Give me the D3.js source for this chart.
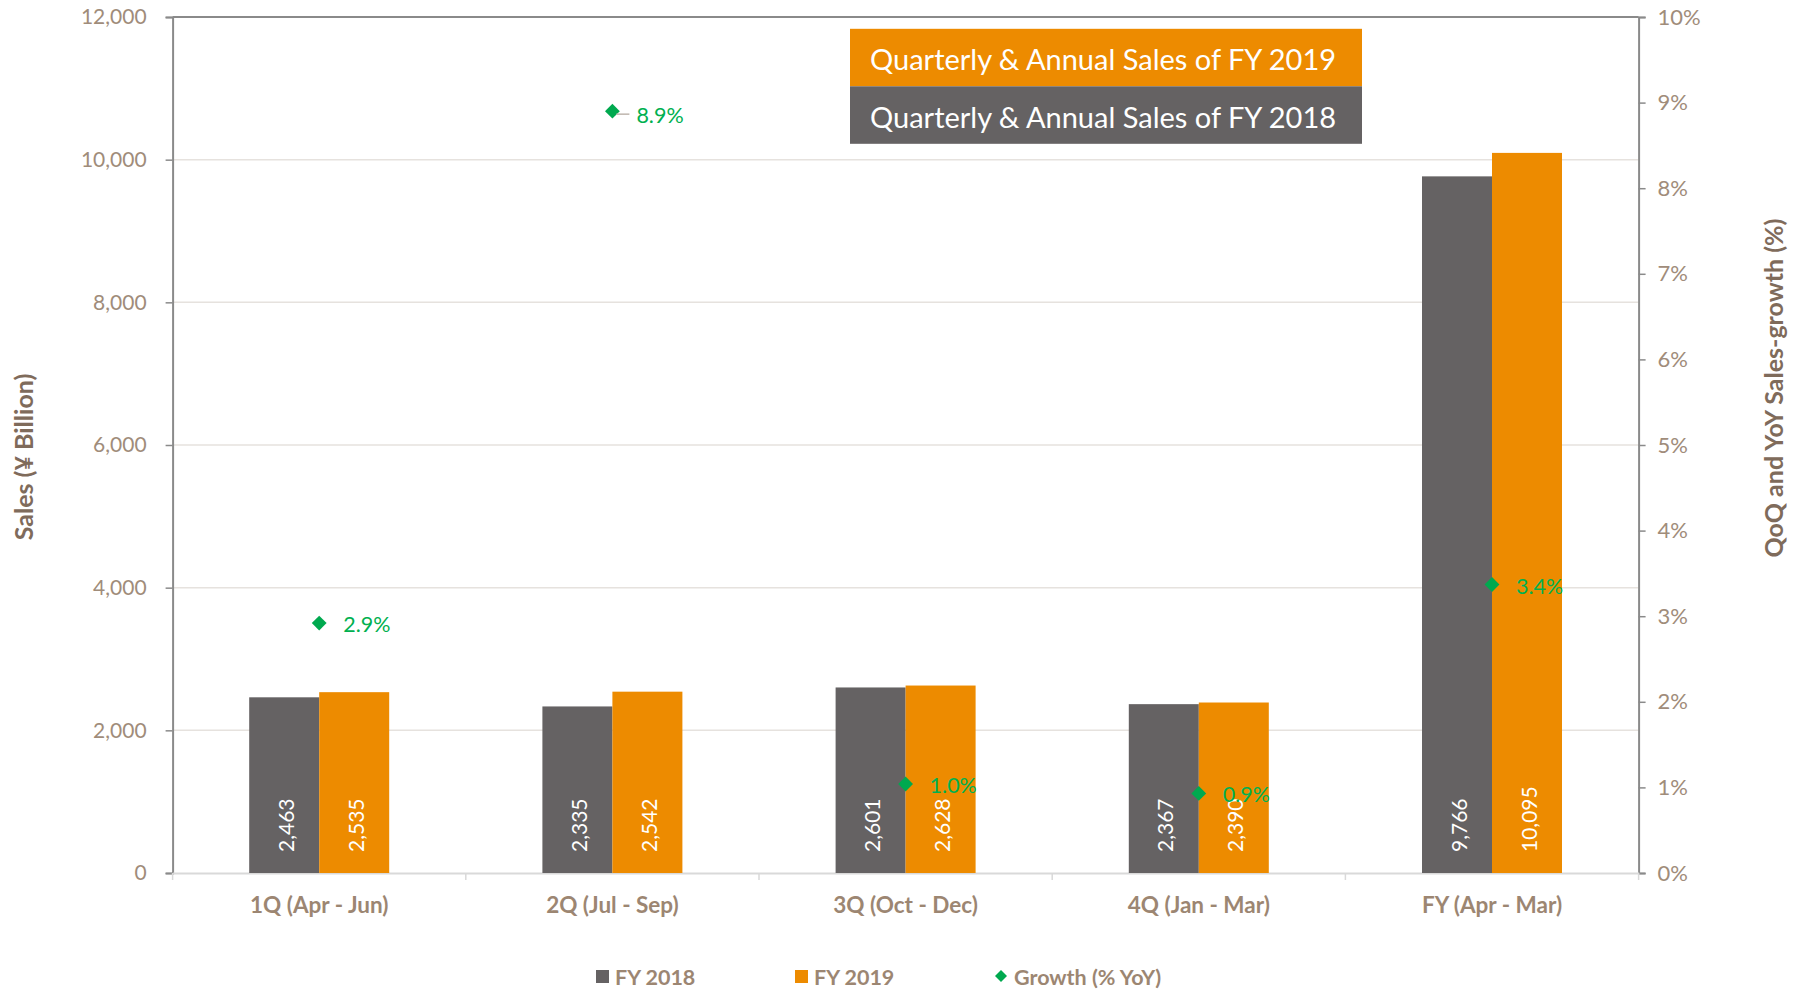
<!DOCTYPE html>
<html>
<head>
<meta charset="utf-8">
<script src="https://cdn.jsdelivr.net/npm/d3@7"></script>
<style>
  html, body { margin: 0; padding: 0; background: #fff; }
  svg { display: block; font-family: Lato, "Open Sans", sans-serif; }
</style>
</head>
<body>
<svg id="chart" width="1804" height="990"></svg>
<script>
// ---- data ----
const categories = ["1Q (Apr - Jun)", "2Q (Jul - Sep)", "3Q (Oct - Dec)", "4Q (Jan - Mar)", "FY (Apr - Mar)"];
const seriesNames = ["FY 2018", "FY 2019"];
const sales2018 = [2463, 2335, 2601, 2367, 9766];
const sales2019 = [2535, 2542, 2628, 2390, 10095];
const growth = [2.92, 8.9, 1.04, 0.93, 3.37];
const leftTicks = [0, 2000, 4000, 6000, 8000, 10000, 12000];
const rightTicks = [0, 1, 2, 3, 4, 5, 6, 7, 8, 9, 10];
const boxLegend = ["Quarterly & Annual Sales of FY 2019", "Quarterly & Annual Sales of FY 2018"];
const growthName = "Growth (% YoY)";

// ---- styles ----
const GRAY = "#656263", ORANGE = "#ED8B00", GREEN = "#00A94F", GREEN_TXT = "#00B050";
const TICK_COL = "#A08C7A", TITLE_COL = "#7F6B5B", CAT_COL = "#9C8672";

const svg = d3.select("#chart");
const pLeft = 172.6, pRight = 1638.6, pTop = 17, pBottom = 873;

const x = d3.scaleBand().domain(categories).range([pLeft, pRight]).padding(0);
const barW = 70;
const pOuter = (x.bandwidth() / barW - 2) / 2;
const x1 = d3.scaleBand().domain(seriesNames).range([0, x.bandwidth()]).paddingInner(0).paddingOuter(pOuter);
const y = d3.scaleLinear().domain([0, 12000]).range([pBottom, pTop]);
const y2 = d3.scaleLinear().domain([0, 10]).range([pBottom, pTop]);

// gridlines
svg.append("g").selectAll("line").data(leftTicks.filter(d => d > 0 && d < 12000)).join("line")
  .attr("x1", pLeft).attr("x2", pRight).attr("y1", d => y(d)).attr("y2", d => y(d))
  .attr("stroke", "#E6E2DE").attr("stroke-width", 1.5);

// left axis
const gL = svg.append("g").attr("transform", `translate(${pLeft},0)`)
  .call(d3.axisLeft(y).tickValues(leftTicks).tickFormat(d3.format(",")).tickSize(7).tickPadding(19));
gL.select(".domain").attr("stroke", "#8A8A8A").attr("stroke-width", 2);
gL.selectAll(".tick line").attr("stroke", "#8A8A8A").attr("stroke-width", 1.5);
gL.selectAll(".tick text").attr("fill", TICK_COL).style("font-size", "21px").style("font-family", "Lato");

// right axis
const gR = svg.append("g").attr("transform", `translate(${pRight},0)`)
  .call(d3.axisRight(y2).tickValues(rightTicks).tickFormat(d => d + "%").tickSize(7).tickPadding(12));
gR.select(".domain").attr("stroke", "#8A8A8A").attr("stroke-width", 2);
gR.selectAll(".tick line").attr("stroke", "#8A8A8A").attr("stroke-width", 1.5);
gR.selectAll(".tick text").attr("fill", TICK_COL).style("font-size", "22px").style("font-family", "Lato");

// top border
svg.append("line").attr("x1", pLeft).attr("x2", pRight).attr("y1", pTop).attr("y2", pTop)
  .attr("stroke", "#8A8A8A").attr("stroke-width", 2);

// bottom axis
const gB = svg.append("g").attr("transform", `translate(0,${pBottom})`)
  .call(d3.axisBottom(x).tickSize(0).tickPadding(24));
gB.select(".domain").attr("stroke", "#D9D9D9").attr("stroke-width", 2);
gB.selectAll(".tick text").attr("fill", CAT_COL).style("font-size", "22.5px").style("font-weight", "bold").style("font-family", "Lato");
// category separator ticks
svg.append("g").selectAll("line").data(d3.range(categories.length + 1)).join("line")
  .attr("x1", i => pLeft + i * x.step()).attr("x2", i => pLeft + i * x.step())
  .attr("y1", pBottom).attr("y2", pBottom + 7)
  .attr("stroke", "#D9D9D9").attr("stroke-width", 1.5);

// bars
const rows = categories.map((c, i) => ({ c, vals: [sales2018[i], sales2019[i]] }));
const colors = [GRAY, ORANGE];
const grp = svg.append("g").selectAll("g").data(rows).join("g")
  .attr("transform", d => `translate(${x(d.c)},0)`);
grp.selectAll("rect").data(d => d.vals.map((v, k) => ({ v, k }))).join("rect")
  .attr("x", d => x1(seriesNames[d.k])).attr("width", x1.bandwidth())
  .attr("y", d => y(d.v)).attr("height", d => y(0) - y(d.v))
  .attr("fill", d => colors[d.k]);
grp.selectAll("text").data(d => d.vals.map((v, k) => ({ v, k }))).join("text")
  .attr("transform", d => `translate(${x1(seriesNames[d.k]) + x1.bandwidth() / 2 + 1},${pBottom - 21}) rotate(-90)`)
  .attr("dominant-baseline", "central")
  .attr("fill", "#fff").style("font-size", "21px")
  .text(d => d3.format(",")(d.v));

// growth markers
const gG = svg.append("g");
gG.selectAll("path").data(growth).join("path")
  .attr("d", d3.symbol(d3.symbolSquare, 110))
  .attr("transform", (d, i) => `translate(${x(categories[i]) + x.bandwidth() / 2},${y2(d)}) rotate(45)`)
  .attr("fill", GREEN);
// leader line for the 8.9% label
gG.append("line")
  .attr("x1", x(categories[1]) + x.bandwidth() / 2 + 4).attr("x2", x(categories[1]) + x.bandwidth() / 2 + 17)
  .attr("y1", y2(growth[1]) + 3).attr("y2", y2(growth[1]) + 3)
  .attr("stroke", "#BFB6AE").attr("stroke-width", 1.5);
gG.selectAll("text").data(growth).join("text")
  .attr("x", (d, i) => x(categories[i]) + x.bandwidth() / 2 + 24)
  .attr("y", (d, i) => y2(d) + (i === 1 ? 4 : 1))
  .attr("dominant-baseline", "central")
  .attr("fill", GREEN_TXT).style("font-size", "21.5px")
  .text(d => d.toFixed(1) + "%");

// axis titles
svg.append("text").attr("transform", `translate(23,457) rotate(-90)`)
  .attr("text-anchor", "middle").attr("dominant-baseline", "central")
  .attr("fill", TITLE_COL).style("font-size", "25px").style("font-weight", "bold")
  .text("Sales (¥ Billion)");
svg.append("text").attr("transform", `translate(1773,388) rotate(-90)`)
  .attr("text-anchor", "middle").attr("dominant-baseline", "central")
  .attr("fill", TITLE_COL).style("font-size", "25px").style("font-weight", "bold")
  .text("QoQ and YoY Sales-growth (%)");

// boxed legend (title box)
const boxX = 850, boxW = 512, boxH = 57.5, boxY = 28.8;
const boxColors = [ORANGE, GRAY];
const bx = svg.append("g").selectAll("g").data(boxLegend).join("g")
  .attr("transform", (d, i) => `translate(${boxX},${boxY + i * boxH})`);
bx.append("rect").attr("width", boxW).attr("height", boxH).attr("fill", (d, i) => boxColors[i]);
bx.append("text").attr("x", 20).attr("y", boxH / 2 + 1).attr("dominant-baseline", "central")
  .attr("fill", "#fff").style("font-size", "29px").text(d => d);

// bottom legend
const legItems = [
  { name: seriesNames[0], type: "sq", color: GRAY, x: 596 },
  { name: seriesNames[1], type: "sq", color: ORANGE, x: 795 },
  { name: growthName, type: "dia", color: GREEN, x: 995 }
];
const lg = svg.append("g").selectAll("g").data(legItems).join("g")
  .attr("transform", d => `translate(${d.x},976)`);
lg.filter(d => d.type === "sq").append("rect").attr("x", 0).attr("y", -6).attr("width", 13).attr("height", 13)
  .attr("fill", d => d.color);
lg.filter(d => d.type === "dia").append("path").attr("d", d3.symbol(d3.symbolSquare, 72))
  .attr("transform", "translate(6,0) rotate(45)").attr("fill", d => d.color);
lg.append("text").attr("x", 19).attr("y", 1).attr("dominant-baseline", "central")
  .attr("fill", CAT_COL).style("font-size", "21.5px").style("font-weight", "bold")
  .text(d => d.name);
</script>
</body>
</html>
